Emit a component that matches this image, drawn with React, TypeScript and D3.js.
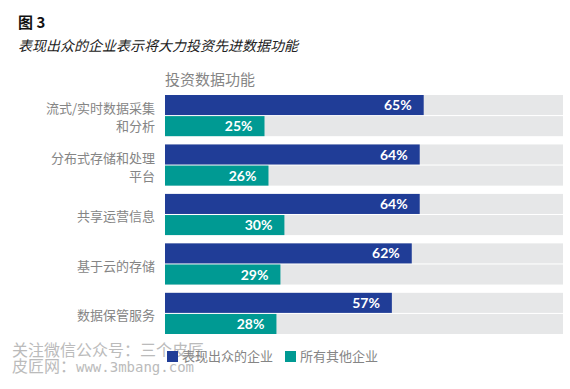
import React from 'react';
import * as d3 from 'd3';

const categories = [
  ['流式/实时数据采集', '和分析'],
  ['分布式存储和处理', '平台'],
  ['共享运营信息'],
  ['基于云的存储'],
  ['数据保管服务'],
];
const seriesNames = ['表现出众的企业', '所有其他企业'];
const leaders = [65, 64, 64, 62, 57];
const others = [25, 26, 30, 29, 28];

const W = 570;
const H = 389;
const BLUE = '#203d97';
const TEAL = '#009a93';
const GRAY_BG = '#e6e7e8';
const LABEL = '#858585';
const CJK = '"Noto Sans CJK SC", sans-serif';

export default function App() {
  const keys = categories.map((c) => c.join(''));

  const x = d3.scaleLinear().domain([0, 100]).range([165, 563]);
  const y = d3.scaleBand().domain(keys).range([95, 334]).paddingInner(0.1675);
  const sub = d3.scaleBand().domain(seriesNames).range([0, y.bandwidth()]).paddingInner(0.05);

  const rows = keys.map((k, i) => ({
    key: k,
    lines: categories[i],
    vals: [leaders[i], others[i]],
  }));
  const colors = [BLUE, TEAL];

  return (
    <div style={{ position: 'absolute', left: 0, top: 0 }}>
      <svg width={W} height={H} style={{ display: 'block', background: '#fff' }}>
        {/* titles */}
        <text x={18} y={28} fontFamily={CJK} fontWeight="bold" fontSize={15} fill="#111">
          图 3
        </text>
        <text x={18} y={51} fontFamily={CJK} fontStyle="italic" fontSize={14} fill="#222">
          表现出众的企业表示将大力投资先进数据功能
        </text>
        <text x={x(0)} y={85} fontFamily={CJK} fontSize={15} fill={LABEL}>
          投资数据功能
        </text>

        {rows.map((r) => {
          const y0 = y(r.key) as number;
          const cy = y0 + y.bandwidth() / 2 + 2;
          return (
            <g key={r.key}>
              {r.lines.map((ln, j) => (
                <text
                  key={ln}
                  x={155}
                  y={cy + (j - (r.lines.length - 1) / 2) * 18}
                  dy="0.35em"
                  textAnchor="end"
                  fontFamily={CJK}
                  fontSize={13}
                  fill={LABEL}
                >
                  {ln}
                </text>
              ))}
              {seriesNames.map((s, j) => {
                const by = y0 + (sub(s) as number);
                const bh = sub.bandwidth();
                const v = r.vals[j];
                return (
                  <g key={s}>
                    <rect x={x(0)} y={by} width={x(100) - x(0)} height={bh} fill={GRAY_BG} />
                    <rect x={x(0)} y={by} width={x(v) - x(0)} height={bh} fill={colors[j]} />
                    <text
                      x={x(v) - 12}
                      y={by + bh / 2}
                      dy="0.36em"
                      textAnchor="end"
                      fontFamily="Lato, sans-serif"
                      fontWeight="bold"
                      fontSize={14}
                      fill="#fff"
                    >
                      {v}%
                    </text>
                  </g>
                );
              })}
            </g>
          );
        })}

        {/* watermark */}
        <g fill="#b4b4b4" opacity={0.9}>
          <text x={12} y={356} fontFamily={CJK} fontSize={16}>
            关注微信公众号：三个皮匠
          </text>
          <text x={12} y={372} fontFamily={CJK} fontSize={16}>
            皮匠网：
            <tspan fontFamily='"DejaVu Sans Mono", monospace' fontSize={14}>
              www.3mbang.com
            </tspan>
          </text>
        </g>

        {/* legend */}
        {seriesNames.map((s, j) => {
          const lx = j === 0 ? 167 : 285;
          return (
            <g key={s}>
              <rect x={lx} y={351} width={11} height={11} fill={colors[j]} />
              <text x={lx + 15} y={356.5} dy="0.35em" fontFamily={CJK} fontSize={13} fill={LABEL}>
                {s}
              </text>
            </g>
          );
        })}
      </svg>
    </div>
  );
}
